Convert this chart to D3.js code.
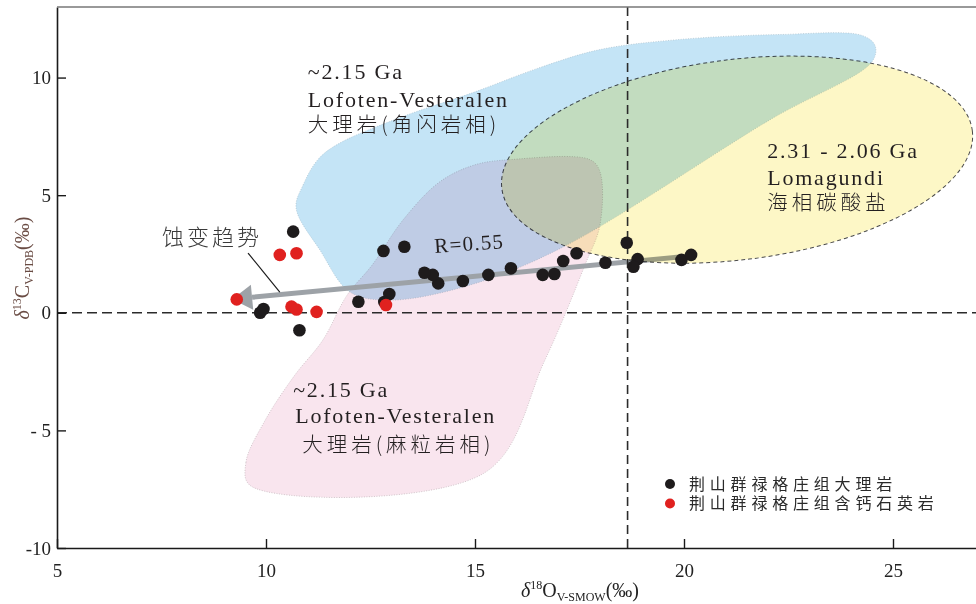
<!DOCTYPE html>
<html>
<head>
<meta charset="utf-8">
<script src="https://cdn.jsdelivr.net/npm/d3@7"></script>
<style>
body { margin: 0; background: #fff; }
svg { display: block; }
</style>
</head>
<body>
<svg id="chart"></svg>
<script>
// 荆山群禄格庄组大理岩 (δ18O, δ13C)
var marbleX = [10.65, 12.81, 13.31, 18.63, 17.43, 17.11, 15.86, 15.32, 14.71, 14.12, 13.99, 13.79, 16.62, 16.90, 18.12, 18.89, 18.79, 19.94, 20.17, 12.95, 12.83, 12.21, 9.86, 9.94, 10.80]
var marbleY = [3.45, 2.63, 2.81, 2.98, 2.53, 2.20, 1.89, 1.61, 1.35, 1.25, 1.61, 1.70, 1.61, 1.65, 2.13, 2.28, 1.96, 2.25, 2.46, 0.80, 0.46, 0.47, 0.00, 0.16, -0.74]

// 荆山群禄格庄组含钙石英岩
var quartzX = [10.33, 10.73, 9.30, 10.61, 10.73, 11.21, 12.87]
var quartzY = [2.46, 2.53, 0.57, 0.26, 0.14, 0.04, 0.33]

// field outlines (δ18O, δ13C)
var amphiboliteField = [[10.72, 4.46], [10.89, 5.44], [11.24, 6.51], [11.70, 7.15], [13.21, 8.30], [14.95, 9.36],
    [16.56, 10.43], [17.99, 11.19], [19.90, 11.62], [22.30, 11.83], [24.26, 11.79], [24.57, 11.36], [24.50, 10.68],
    [22.06, 8.21], [17.11, 2.80], [14.88, 1.18], [12.97, 0.54], [12.01, 0.88], [11.29, 2.67]]
var granuliteField = [[9.62, -7.34], [9.52, -6.36], [9.98, -4.57], [10.69, -2.65], [11.36, -1.16], [11.94, 0.75],
    [12.54, 2.03], [13.28, 3.95], [14.16, 5.57], [15.00, 6.29], [15.84, 6.51], [17.75, 6.51], [17.99, 5.99],
    [17.99, 3.74], [17.63, 2.03], [16.67, -2.02], [15.24, -6.79]]
// Lomagundi ellipse: centre, half axes (data units), tilt (deg)
var lomagundi = {cx: 21.27, cy: 6.51, rx: 5.67, ry: 4.26, tilt: -7}

var xTicks = [5, 10, 15, 20, 25]
var yTicks = [-10, -5, 0, 5, 10]
var yTickLabels = ["-10", "- 5", "0", "5", "10"]
var refO = 18.65
var trendStart = [20.19, 2.42]
var trendTip = [9.19, 0.58]

var legendItems = ["荆山群禄格庄组大理岩", "荆山群禄格庄组含钙石英岩"]
var legendColors = ["#1e1b1c", "#e0211f"]

var width = 976, height = 604

var svg = d3.select("#chart")
    .attr("width", width)
    .attr("height", height)

var x = d3.scaleLinear().domain([5, 27]).range([57, 976.6])
var y = d3.scaleLinear().domain([-10, 13]).range([548, 7])

var toPx = d => [x(d[0]), y(d[1])]

// fields
svg.append("path")
    .attr("d", d3.line().curve(d3.curveCatmullRomClosed.alpha(0.5))(amphiboliteField.map(toPx)))
    .attr("fill", "#c4e4f6")
    .attr("stroke", "#a9bfcb")
    .attr("stroke-width", 0.7)
    .attr("stroke-dasharray", "1,1.5")

svg.append("path")
    .attr("d", d3.line().curve(d3.curveCatmullRomClosed.alpha(0.5))(granuliteField.map(toPx)))
    .attr("fill", "#f9e5ee")
    .attr("stroke", "#bfb0b6")
    .attr("stroke-width", 0.7)
    .attr("stroke-dasharray", "1,1.5")
    .style("mix-blend-mode", "multiply")

// trend arrow
var p0 = toPx(trendStart), p1 = toPx(trendTip)
var ang = Math.atan2(p1[1] - p0[1], p1[0] - p0[0])
var headLen = 20, headHalf = 12.5
var base = [p1[0] - headLen * Math.cos(ang), p1[1] - headLen * Math.sin(ang)]
svg.append("line")
    .attr("x1", p0[0]).attr("y1", p0[1])
    .attr("x2", base[0]).attr("y2", base[1])
    .attr("stroke", "#9da2a7")
    .attr("stroke-width", 5)
svg.append("path")
    .attr("d", d3.line()([
        p1,
        [base[0] - headHalf * Math.sin(ang), base[1] + headHalf * Math.cos(ang)],
        [base[0] + headHalf * Math.sin(ang), base[1] - headHalf * Math.cos(ang)]
    ]) + "Z")
    .attr("fill", "#9da2a7")

// Lomagundi ellipse
svg.append("ellipse")
    .attr("cx", 0).attr("cy", 0)
    .attr("rx", x(lomagundi.cx + lomagundi.rx) - x(lomagundi.cx))
    .attr("ry", y(lomagundi.cy - lomagundi.ry) - y(lomagundi.cy))
    .attr("transform", `translate(${x(lomagundi.cx)},${y(lomagundi.cy)}) rotate(${lomagundi.tilt})`)
    .attr("fill", "#fdf7c6")
    .attr("stroke", "#4a4a4a")
    .attr("stroke-width", 1)
    .attr("stroke-dasharray", "4,3")
    .style("mix-blend-mode", "multiply")

// reference lines
svg.append("line")
    .attr("x1", x(5)).attr("x2", x(27))
    .attr("y1", y(0)).attr("y2", y(0))
    .attr("stroke", "#2b2b2b")
    .attr("stroke-width", 1.6)
    .attr("stroke-dasharray", "10,5")
svg.append("line")
    .attr("x1", x(refO)).attr("x2", x(refO))
    .attr("y1", y(13)).attr("y2", y(-10))
    .attr("stroke", "#2b2b2b")
    .attr("stroke-width", 1.6)
    .attr("stroke-dasharray", "9,5")

// axes
var xAxis = svg.append("g")
    .attr("transform", `translate(0,${y(-10)})`)
    .call(d3.axisBottom(x).tickValues(xTicks).tickSizeInner(-9).tickSizeOuter(0).tickPadding(16))
var yAxis = svg.append("g")
    .attr("transform", `translate(${x(5)},0)`)
    .call(d3.axisLeft(y).tickValues(yTicks).tickSizeInner(-9).tickSizeOuter(0).tickPadding(6)
        .tickFormat((d, i) => yTickLabels[i]))

svg.selectAll(".domain").attr("stroke", "#1a1a1a").attr("stroke-width", 1.6)
svg.selectAll(".tick line").attr("stroke", "#1a1a1a").attr("stroke-width", 1.4)
svg.selectAll(".tick text")
    .style("font-family", "'Liberation Serif', serif")
    .style("font-size", "19px")
    .attr("fill", "#222")

// top frame
svg.append("line")
    .attr("x1", x(5)).attr("x2", x(27))
    .attr("y1", y(13)).attr("y2", y(13))
    .attr("stroke", "#777")
    .attr("stroke-width", 1.5)

// points
svg.append("g").selectAll("circle")
    .data(marbleX.map((d, i) => [d, marbleY[i]]))
    .join("circle")
    .attr("cx", d => x(d[0]))
    .attr("cy", d => y(d[1]))
    .attr("r", 6.3)
    .attr("fill", legendColors[0])
svg.append("g").selectAll("circle")
    .data(quartzX.map((d, i) => [d, quartzY[i]]))
    .join("circle")
    .attr("cx", d => x(d[0]))
    .attr("cy", d => y(d[1]))
    .attr("r", 6.3)
    .attr("fill", legendColors[1])

// annotations
var serif = "'Liberation Serif', 'Times New Roman', serif"
var cjk = "'Noto Sans CJK SC', sans-serif"

function block(px, py, lines) {
    lines.forEach(function(l) {
        svg.append("text")
            .attr("x", x(px) + (l.dx || 0))
            .attr("y", y(py) + l.dy)
            .attr("fill", "#231f20")
            .style("font-size", l.cjk ? "20.5px" : "22px")
            .style("font-weight", l.cjk ? 300 : 400)
            .style("font-family", l.cjk ? cjk : serif)
            .style("letter-spacing", l.cjk ? "4px" : "1.8px")
            .text(l.text)
    })
}

block(11.0, 9.96, [
    {text: "~2.15 Ga", dy: 0},
    {text: "Lofoten-Vesteralen", dy: 28},
    {text: "大理岩(角闪岩相)", dy: 53, cjk: true}
])
block(21.99, 6.59, [
    {text: "2.31 - 2.06 Ga", dy: 0},
    {text: "Lomagundi", dy: 27},
    {text: "海相碳酸盐", dy: 52, cjk: true}
])
block(10.65, -3.59, [
    {text: "~2.15 Ga", dy: 0},
    {text: "Lofoten-Vesteralen", dy: 26, dx: 2},
    {text: "大理岩(麻粒岩相)", dy: 55, dx: 9, cjk: true}
])

svg.append("text")
    .attr("x", x(14.04))
    .attr("y", y(2.54))
    .attr("transform", `rotate(-4, ${x(14.04)}, ${y(2.54)})`)
    .style("font-family", serif)
    .style("font-size", "21px")
    .style("letter-spacing", "1.2px")
    .attr("fill", "#231f20")
    .text("R=0.55")

svg.append("text")
    .attr("x", x(7.51))
    .attr("y", y(2.88))
    .style("font-family", cjk)
    .style("font-size", "22px")
    .style("font-weight", 300)
    .style("letter-spacing", "3px")
    .attr("fill", "#3a3a3a")
    .text("蚀变趋势")

svg.append("line")
    .attr("x1", x(9.57)).attr("y1", y(2.54))
    .attr("x2", x(10.33)).attr("y2", y(0.88))
    .attr("stroke", "#1a1a1a")
    .attr("stroke-width", 1.2)

// axis titles
var xt = svg.append("text")
    .attr("x", 580)
    .attr("y", 597)
    .attr("text-anchor", "middle")
    .style("font-family", serif)
    .style("font-size", "20px")
    .attr("fill", "#222")
xt.append("tspan").style("font-style", "italic").text("δ")
xt.append("tspan").attr("dy", -8).style("font-size", "12px").text("18")
xt.append("tspan").attr("dy", 8).text("O")
xt.append("tspan").attr("dy", 4).style("font-size", "12px").text("V-SMOW")
xt.append("tspan").attr("dy", -4).text("(‰)")

var yt = svg.append("text")
    .attr("transform", "translate(29,268) rotate(-90)")
    .attr("text-anchor", "middle")
    .style("font-family", serif)
    .style("font-size", "20px")
    .attr("fill", "#6a4c44")
yt.append("tspan").style("font-style", "italic").text("δ")
yt.append("tspan").attr("dy", -8).style("font-size", "12px").text("13")
yt.append("tspan").attr("dy", 8).text("C")
yt.append("tspan").attr("dy", 4).style("font-size", "12px").text("V-PDB")
yt.append("tspan").attr("dy", -4).text("(‰)")

// legend
var legend = svg.append("g")
    .attr("transform", "translate(670,484)")
legend.selectAll("circle")
    .data(legendItems)
    .join("circle")
    .attr("cx", 0)
    .attr("cy", (d, i) => i * 19.5)
    .attr("r", 5)
    .attr("fill", (d, i) => legendColors[i])
legend.selectAll("text")
    .data(legendItems)
    .join("text")
    .attr("x", 19)
    .attr("y", (d, i) => i * 19.5)
    .attr("dy", "0.35em")
    .style("font-family", cjk)
    .style("font-size", "16px")
    .style("letter-spacing", "4.8px")
    .attr("fill", "#2a2a2a")
    .text(d => d)
</script>
</body>
</html>
